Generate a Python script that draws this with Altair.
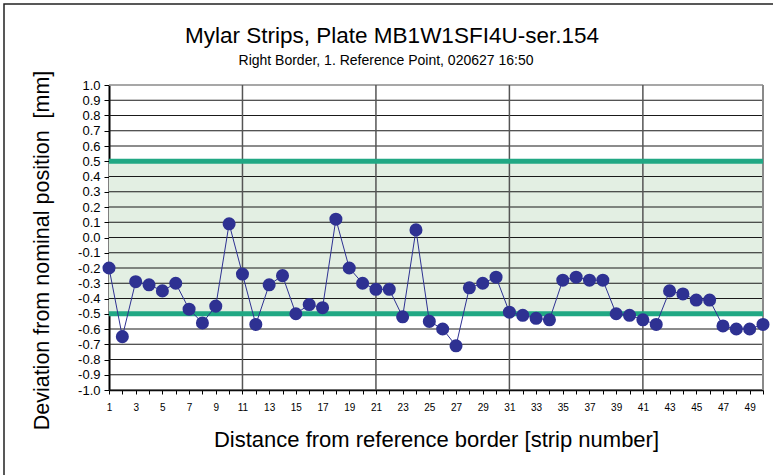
import altair as alt
import pandas as pd

# ---- data ----
strips = list(range(1, 51))
deviation = [-0.20, -0.65, -0.29, -0.31, -0.35, -0.30, -0.47, -0.56, -0.45, 0.09,
             -0.24, -0.57, -0.31, -0.25, -0.50, -0.44, -0.46, 0.12, -0.20, -0.30,
             -0.34, -0.34, -0.52, 0.05, -0.55, -0.60, -0.71, -0.33, -0.30, -0.26,
             -0.49, -0.51, -0.53, -0.54, -0.28, -0.26, -0.28, -0.28, -0.50, -0.51,
             -0.54, -0.57, -0.35, -0.37, -0.41, -0.41, -0.58, -0.60, -0.60, -0.57]
y_ticks = [-1.0, -0.9, -0.8, -0.7, -0.6, -0.5, -0.4, -0.3, -0.2, -0.1, 0.0,
           0.1, 0.2, 0.3, 0.4, 0.5, 0.6, 0.7, 0.8, 0.9, 1.0]
tolerance = [-0.5, 0.5]
section_lines = [11, 21, 31, 41]
x_range = [1, 50]
y_range = [-1.0, 1.0]

title_text = "Mylar Strips, Plate MB1W1SFI4U-ser.154"
subtitle_text = "Right Border, 1. Reference Point, 020627 16:50"
x_title = "Distance from reference border [strip number]"
y_title = "Deviation from nominal position \u00a0[mm]"

points = pd.DataFrame({"strip": strips, "dev": deviation})
band = pd.DataFrame({"x0": [x_range[0]], "x1": [x_range[1]],
                     "lo": [tolerance[0]], "hi": [tolerance[1]]})
hgrid = pd.DataFrame({"v": y_ticks[:-1]})
vgrid = pd.DataFrame({"v": section_lines})
limits = pd.DataFrame({"v": tolerance})
top_edge = pd.DataFrame({"v": [y_range[1]]})
right_edge = pd.DataFrame({"v": [x_range[1]]})
titles = pd.DataFrame({"t": [title_text]})
subtitles = pd.DataFrame({"t": [subtitle_text]})

FONT = "Liberation Sans"
xscale = alt.Scale(domain=x_range, nice=False, zero=False)
yscale = alt.Scale(domain=y_range, nice=False, zero=False)

xaxis = alt.Axis(values=strips, title=x_title,
                 labelExpr="datum.value % 2 == 1 ? datum.value : ''",
                 labelAngle=0, labelFont=FONT, labelFontSize=10, labelColor="black",
                 labelPadding=8, tickSize=4, tickColor="black", tickWidth=1,
                 domainColor="black", domainWidth=1.5, grid=False,
                 titleFont=FONT, titleFontSize=22, titleFontWeight="normal",
                 titleColor="black", titleBaseline="alphabetic", titleY=56,
                 labelOverlap=False, labelFlush=False)
yaxis = alt.Axis(values=y_ticks, title=y_title,
                 labelExpr="replace(format(datum.value, '.1f'), '\u2212', '-')",
                 labelFont=FONT, labelFontSize=13, labelColor="black",
                 labelPadding=4, tickSize=5, tickColor="black", tickWidth=1,
                 domainColor="black", domainWidth=2, grid=False,
                 titleFont=FONT, titleFontSize=21.5, titleFontWeight="normal",
                 titleColor="black", titleBaseline="middle", titleAlign="center",
                 titleAngle=270, titleX=-67, titleY=165,
                 labelOverlap=False, labelFlush=False)


def X(f):
    return alt.X(f, type="quantitative", scale=xscale, axis=xaxis)


def Y(f):
    return alt.Y(f, type="quantitative", scale=yscale, axis=yaxis)


band_layer = alt.Chart(band).mark_rect(color="#e3efe3").encode(
    x=X("x0"), x2="x1", y=Y("lo"), y2="hi")

hgrid_layer = alt.Chart(hgrid).mark_rule(color="#1a1a1a", strokeWidth=1.1).encode(y=Y("v"))

top_border = alt.Chart(top_edge).mark_rule(color="#8a8a8a", strokeWidth=1.5).encode(y=Y("v"))
right_border = alt.Chart(right_edge).mark_rule(color="#8a8a8a", strokeWidth=2).encode(x=X("v"))

vgrid_layer = alt.Chart(vgrid).mark_rule(color="#555555", strokeWidth=1.5).encode(x=X("v"))

limit_layer = alt.Chart(limits).mark_rule(color="#21a884", strokeWidth=5).encode(y=Y("v"))

line_layer = alt.Chart(points).mark_line(color="#2e3192", strokeWidth=1).encode(
    x=X("strip"), y=Y("dev"))
point_layer = alt.Chart(points).mark_circle(size=170, color="#2e3192", opacity=1).encode(
    x=X("strip"), y=Y("dev"))

title_layer = alt.Chart(titles).mark_text(
    font=FONT, fontSize=22.5, color="black", align="center", baseline="alphabetic").encode(
    text="t:N", x=alt.value(283), y=alt.value(-42))
subtitle_layer = alt.Chart(subtitles).mark_text(
    font=FONT, fontSize=14, color="black", align="center", baseline="alphabetic").encode(
    text="t:N", x=alt.value(277), y=alt.value(-20))

frame = alt.Chart(alt.Data(values=[{"a": 1}])).mark_rect(
    fillOpacity=0, stroke="#222222", strokeWidth=1.5).encode(
    x=alt.value(-105), x2=alt.value(700), y=alt.value(-81), y2=alt.value(420))

chart = alt.layer(
    band_layer, hgrid_layer, top_border, right_border, vgrid_layer,
    limit_layer, line_layer, point_layer, title_layer, subtitle_layer, frame
).properties(
    width=654, height=305,
    autosize="none",
    padding={"left": 109, "top": 85, "right": 10, "bottom": 85},
    background="white",
).configure_view(stroke=None).configure_axis(labelOverlap=False)

chart.save("out.html", embed_options={"renderer": "svg", "actions": False})
